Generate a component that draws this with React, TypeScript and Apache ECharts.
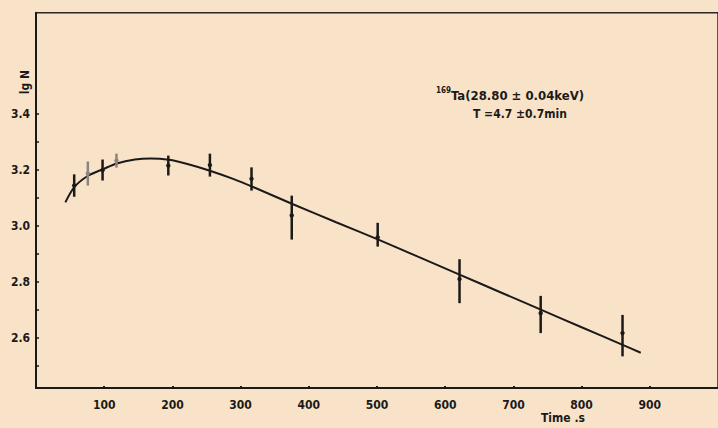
import React, { useEffect, useRef } from "react";
import * as echarts from "echarts";

// Measured points: time (s), value (lg N), error-bar low, error-bar high, grey ink flag
const times = [56, 76, 97.6, 118, 194, 255, 316, 375, 501, 621, 740, 860];
const values = [3.143, 3.186, 3.198, 3.232, 3.214, 3.216, 3.167, 3.036, 2.958, 2.809, 2.687, 2.616];
const lows = [3.103, 3.143, 3.161, 3.207, 3.179, 3.175, 3.125, 2.95, 2.925, 2.723, 2.616, 2.533];
const highs = [3.183, 3.229, 3.236, 3.257, 3.25, 3.257, 3.208, 3.107, 3.01, 2.88, 2.749, 2.681];
const grey = [0, 1, 0, 1, 0, 0, 0, 0, 0, 0, 0, 0];

// Fitted curve
const fitTimes = [43, 57, 77, 98.6, 118.6, 145, 168, 195, 222, 255, 290, 320, 376, 440, 502, 560, 621, 680, 741, 800, 861, 886.7];
const fitValues = [3.083, 3.14, 3.179, 3.202, 3.222, 3.236, 3.24, 3.235, 3.22, 3.196, 3.166, 3.136, 3.077, 3.012, 2.95, 2.889, 2.825, 2.763, 2.699, 2.637, 2.573, 2.546];

const xLabels = [100, 200, 300, 400, 500, 600, 700, 800, 900];
const yLabels = [2.6, 2.8, 3.0, 3.2, 3.4];
const yTicks = [2.5, 2.6, 2.7, 2.8, 2.9, 3.0, 3.1, 3.2, 3.3, 3.4];

const BG = "#f9e3c8";
const INK = "#1c1a18";
const FONT = "'DejaVu Sans Condensed', 'DejaVu Sans', sans-serif";

export default function App() {
  const ref = useRef<HTMLDivElement>(null);
  useEffect(() => {
    document.body.style.margin = "0";
    document.body.style.background = BG;
    if (!ref.current) return;
    const chart = echarts.init(ref.current, null, { renderer: "svg" });
    const errData = times.map((t, i) => [t, lows[i], highs[i], values[i], grey[i]]);
    chart.setOption({
      animation: false,
      backgroundColor: BG,
      grid: {
        left: 36,
        top: 12.8,
        width: 700,
        height: 375.2,
        show: true,
        borderColor: "#2b2724",
        borderWidth: 1.5,
        backgroundColor: "transparent",
      },
      xAxis: {
        type: "value",
        min: 0,
        max: 1000,
        splitLine: { show: false },
        axisLine: { lineStyle: { color: INK, width: 2 } },
        axisTick: { inside: true, length: 2, lineStyle: { color: INK, width: 2 }, customValues: xLabels },
        axisLabel: {
          customValues: xLabels,
          color: INK,
          fontFamily: FONT,
          fontWeight: "bold",
          fontSize: 12,
          margin: 11,
        },
      },
      yAxis: {
        type: "value",
        min: 2.42,
        max: 3.76,
        splitLine: { show: false },
        axisLine: { lineStyle: { color: INK, width: 2 } },
        axisTick: { inside: true, length: 3, lineStyle: { color: INK, width: 1.5 }, customValues: yTicks },
        axisLabel: {
          customValues: yLabels,
          formatter: (v: number) => v.toFixed(1),
          color: INK,
          fontFamily: FONT,
          fontWeight: "bold",
          fontSize: 12,
          margin: 6,
        },
      },
      graphic: [
        {
          type: "text",
          left: 19,
          top: 70,
          rotation: Math.PI / 2,
          style: { text: "lg N", fill: INK, font: `bold 12px ${FONT}` },
        },
        {
          type: "text",
          left: 541,
          top: 412,
          style: { text: "Time .s", fill: INK, font: `bold 12px ${FONT}` },
        },
        {
          type: "text",
          left: 436,
          top: 86,
          style: { text: "169", fill: INK, font: `bold 8px ${FONT}` },
        },
        {
          type: "text",
          left: 451,
          top: 89,
          style: { text: "Ta(28.80 ± 0.04keV)", fill: INK, font: `bold 13px ${FONT}` },
        },
        {
          type: "text",
          left: 473,
          top: 108,
          style: { text: "T =4.7 ±0.7min", fill: INK, font: `bold 12px ${FONT}` },
        },
      ],
      series: [
        {
          type: "line",
          data: fitTimes.map((t, i) => [t, fitValues[i]]),
          smooth: 0.3,
          symbol: "none",
          lineStyle: { color: INK, width: 2 },
          z: 2,
        },
        {
          type: "custom",
          data: errData,
          z: 3,
          renderItem: (_params: any, api: any) => {
            const x = api.value(0);
            const lo = api.coord([x, api.value(1)]);
            const hi = api.coord([x, api.value(2)]);
            const c = api.coord([x, api.value(3)]);
            const col = api.value(4) ? "#8a8580" : INK;
            return {
              type: "group",
              children: [
                {
                  type: "line",
                  shape: { x1: lo[0], y1: lo[1], x2: hi[0], y2: hi[1] },
                  style: { stroke: col, lineWidth: 2.5 },
                },
                {
                  type: "circle",
                  shape: { cx: c[0], cy: c[1], r: 2.2 },
                  style: { fill: col },
                },
              ],
            };
          },
        },
      ],
    });
    return () => chart.dispose();
  }, []);
  return <div ref={ref} style={{ width: 718, height: 428, position: "absolute", left: 0, top: 0 }} />;
}
